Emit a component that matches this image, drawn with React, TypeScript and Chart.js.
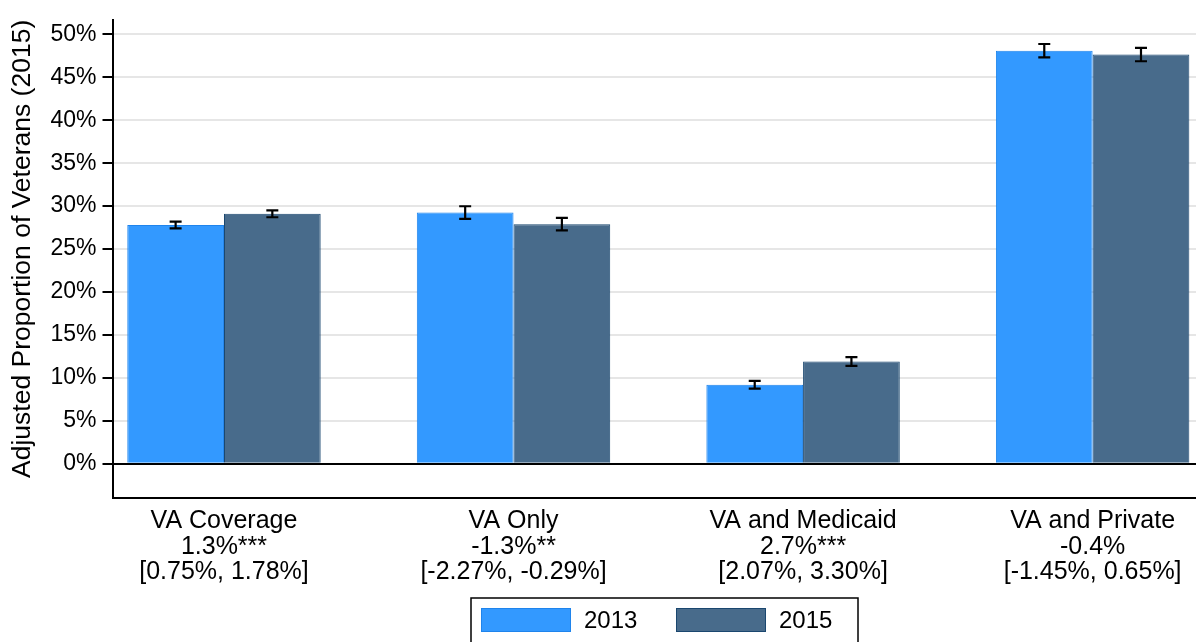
import React, { useEffect, useRef } from 'react';
import { Chart, registerables } from 'chart.js';

Chart.register(...registerables);

// ---- Data ----
const categoryLabels: string[][] = [
  ['VA Coverage', '1.3%***', '[0.75%, 1.78%]'],
  ['VA Only', '-1.3%**', '[-2.27%, -0.29%]'],
  ['VA and Medicaid', '2.7%***', '[2.07%, 3.30%]'],
  ['VA and Private', '-0.4%', '[-1.45%, 0.65%]'],
];
const seriesNames = ['2013', '2015'];
const values2013 = [27.8, 29.25, 9.2, 48.1];
const values2015 = [29.1, 27.9, 11.9, 47.65];
const errors2013 = [0.4, 0.73, 0.45, 0.78];
const errors2015 = [0.4, 0.73, 0.5, 0.78];
const yTickValues = [0, 5, 10, 15, 20, 25, 30, 35, 40, 45, 50];
const yTitle = 'Adjusted Proportion of Veterans (2015)';

const FONT = "'Liberation Sans', Arial, Helvetica, sans-serif";

const errorBarPlugin = {
  id: 'errorBars',
  afterDatasetsDraw(chart: any) {
    const { ctx } = chart;
    const yScale = chart.scales.y;
    chart.data.datasets.forEach((ds: any, di: number) => {
      const meta = chart.getDatasetMeta(di);
      meta.data.forEach((bar: any, i: number) => {
        const v = ds.data[i].y;
        const e = ds.errors[i];
        const yTop = yScale.getPixelForValue(v + e);
        const yBot = yScale.getPixelForValue(v - e);
        const x = bar.x;
        const cap = 6;
        ctx.save();
        ctx.strokeStyle = '#000';
        ctx.lineWidth = 2.2;
        ctx.beginPath();
        ctx.moveTo(x, yTop);
        ctx.lineTo(x, yBot);
        ctx.moveTo(x - cap, yTop);
        ctx.lineTo(x + cap, yTop);
        ctx.moveTo(x - cap, yBot);
        ctx.lineTo(x + cap, yBot);
        ctx.stroke();
        ctx.restore();
      });
    });
  },
};

const boxLegendPlugin = {
  id: 'boxLegend',
  afterDraw(chart: any) {
    const { ctx } = chart;
    const o = chart.options.plugins.boxLegend;
    ctx.save();
    ctx.strokeStyle = '#000';
    ctx.lineWidth = 1.5;
    ctx.strokeRect(o.left, o.top, o.width, o.height);
    ctx.font = `${o.fontSize}px ${FONT}`;
    ctx.textBaseline = 'middle';
    ctx.textAlign = 'left';
    chart.data.datasets.forEach((ds: any, i: number) => {
      const sx = o.itemX[i];
      ctx.fillStyle = ds.backgroundColor;
      ctx.fillRect(sx, o.swatchTop, o.swatchW, o.swatchH);
      ctx.strokeStyle = ds.borderColor;
      ctx.lineWidth = 1;
      ctx.strokeRect(sx + 0.5, o.swatchTop + 0.5, o.swatchW - 1, o.swatchH - 1);
      ctx.fillStyle = '#000';
      ctx.fillText(ds.label, sx + o.swatchW + o.gap, o.swatchTop + o.swatchH / 2 + 1);
    });
    ctx.restore();
  },
};

export default function App() {
  const canvasRef = useRef<HTMLCanvasElement | null>(null);

  useEffect(() => {
    document.body.style.margin = '0';
    const canvas = canvasRef.current;
    if (!canvas) return;

    const chart = new Chart(canvas, {
      type: 'bar',
      data: {
        datasets: [
          {
            label: seriesNames[0],
            data: values2013.map((v, i) => ({ x: i, y: v })),
            errors: errors2013,
            backgroundColor: '#3399ff',
            borderColor: '#1f84ec',
            borderWidth: 1,
          } as any,
          {
            label: seriesNames[1],
            data: values2015.map((v, i) => ({ x: i, y: v })),
            errors: errors2015,
            backgroundColor: '#486b8b',
            borderColor: '#1a476f',
            borderWidth: 1,
          } as any,
        ],
      },
      options: {
        animation: false,
        responsive: false,
        devicePixelRatio: 1,
        categoryPercentage: 0.668,
        barPercentage: 1,
        layout: { padding: { top: 7, left: 0, right: 0, bottom: 0 } },
        plugins: {
          legend: { display: false },
          tooltip: { enabled: false },
          boxLegend: {
            left: 471,
            top: 598,
            width: 387,
            height: 60,
            itemX: [481, 676],
            swatchTop: 608,
            swatchW: 90,
            swatchH: 24,
            gap: 13,
            fontSize: 24,
          },
        } as any,
        scales: {
          x: {
            type: 'linear',
            offset: false,
            min: -0.385,
            max: 3.357,
            afterBuildTicks: (scale: any) => {
              scale.ticks = categoryLabels.map((_, i) => ({ value: i }));
            },
            afterFit: (scale: any) => {
              scale.height = 144;
            },
            grid: { display: false, drawTicks: false },
            border: { display: true, color: '#000', width: 2 },
            ticks: {
              autoSkip: false,
              maxRotation: 0,
              minRotation: 0,
              padding: 10,
              color: '#000',
              font: { family: FONT, size: 25, lineHeight: 1.03 },
              callback: (value: any) => categoryLabels[Math.round(Number(value))] ?? '',
            },
          },
          y: {
            type: 'linear',
            min: -4,
            max: 51.7,
            afterBuildTicks: (scale: any) => {
              scale.ticks = yTickValues.map((v) => ({ value: v }));
            },
            afterFit: (scale: any) => {
              scale.width = 112.5;
            },
            grid: {
              color: (ctx: any) => (ctx.tick && ctx.tick.value === 0 ? '#000' : '#e6e6e6'),
              lineWidth: 2,
              tickColor: '#000',
              tickLength: 10,
              drawTicks: true,
            },
            border: { display: true, color: '#000', width: 2 },
            ticks: {
              padding: 6,
              color: '#000',
              font: { family: FONT, size: 23 },
              callback: (value: any) => `${value}%`,
            },
            title: {
              display: true,
              text: yTitle,
              align: 'end',
              color: '#000',
              font: { family: FONT, size: 26.5 },
              padding: { top: 7, bottom: 0 },
            },
          },
        },
      } as any,
      plugins: [errorBarPlugin, boxLegendPlugin],
    });

    return () => {
      chart.destroy();
    };
  }, []);

  return (
    <div style={{ width: 1196, height: 642, background: '#fff' }}>
      <canvas ref={canvasRef} width={1196} height={642} style={{ display: 'block' }} />
    </div>
  );
}
